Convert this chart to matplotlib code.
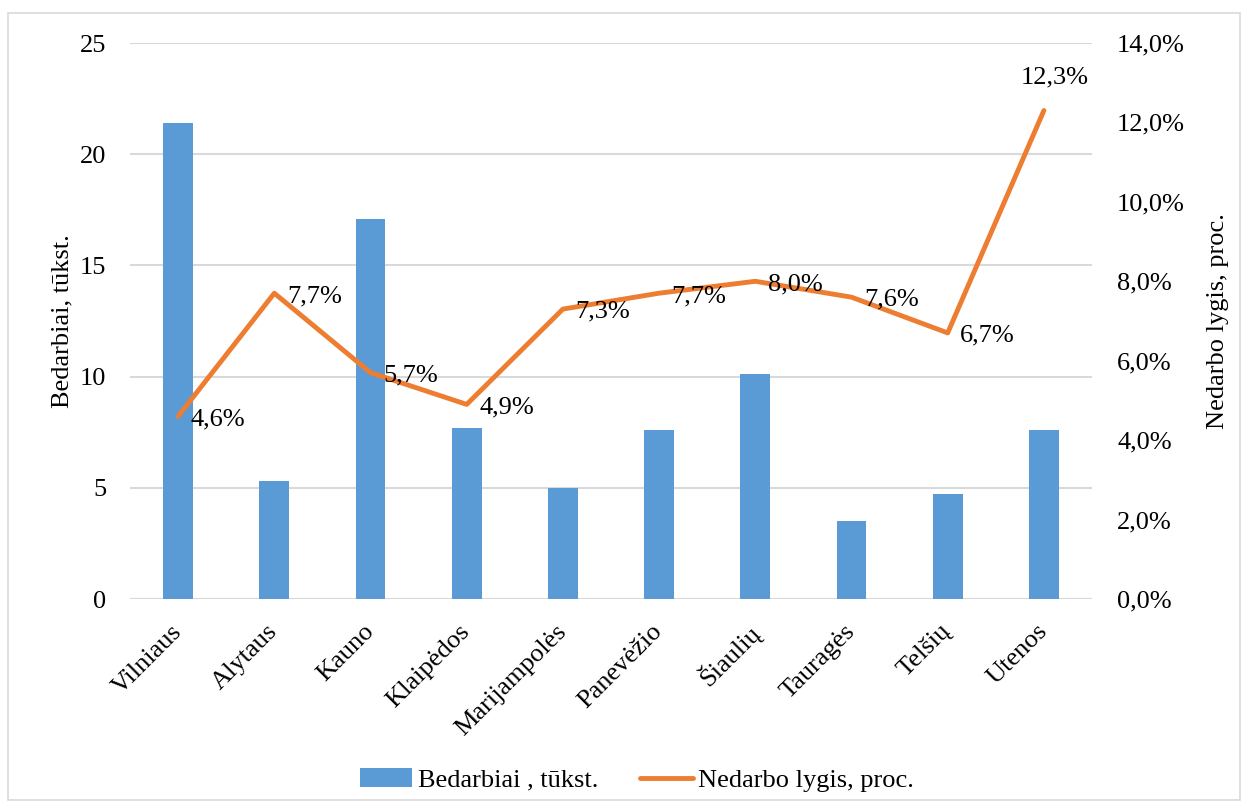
import matplotlib.pyplot as plt
import matplotlib.transforms as mtransforms
from matplotlib.ticker import FuncFormatter, MultipleLocator
from matplotlib.patches import Rectangle
import numpy as np

plt.rcParams['font.family'] = ['Liberation Serif', 'DejaVu Serif']

apskritys = ['Vilniaus', 'Alytaus', 'Kauno', 'Klaipėdos', 'Marijampolės',
             'Panevėžio', 'Šiaulių', 'Tauragės', 'Telšių', 'Utenos']
bedarbiai = [21.4, 5.3, 17.1, 7.7, 5.0, 7.6, 10.1, 3.5, 4.7, 7.6]
nedarbo_lygis = [4.6, 7.7, 5.7, 4.9, 7.3, 7.7, 8.0, 7.6, 6.7, 12.3]

blue = '#5B9BD5'
orange = '#ED7D31'
grid = '#D9D9D9'
fs = 19

fig = plt.figure(figsize=(12.49, 8.09), dpi=100)
ax = fig.add_axes([130 / 1249, 1 - 599 / 809, 962 / 1249, 556 / 809])
ax2 = ax.twinx()

x = np.arange(len(apskritys))
ax.bar(x, bedarbiai, width=0.31, color=blue, zorder=2, label='Bedarbiai , tūkst.')
ax2.plot(x, nedarbo_lygis, color=orange, lw=3.5, solid_capstyle='round',
         solid_joinstyle='round', label='Nedarbo lygis, proc.')

ax.set_xlim(-0.5, len(apskritys) - 0.5)
ax.set_ylim(0, 25)
ax2.set_ylim(0, 14)
ax.yaxis.set_major_locator(MultipleLocator(5))
ax2.yaxis.set_major_locator(MultipleLocator(2))
ax2.yaxis.set_major_formatter(FuncFormatter(lambda v, p: ('%.1f%%' % v).replace('.', ',')))

ax.grid(axis='y', color=grid, lw=1.5, zorder=0)
ax.set_axisbelow(True)
for a in (ax, ax2):
    for s in ['top', 'left', 'right', 'bottom']:
        a.spines[s].set_visible(False)
    a.tick_params(length=0, labelsize=fs)
ax.axhline(0, color=grid, lw=1.5, zorder=1)

ax.set_xticks(x)
ax.set_xticklabels(apskritys, rotation=45, ha='right', va='center', rotation_mode='anchor')
shift = mtransforms.ScaledTranslation(-6 / 100, 0, fig.dpi_scale_trans)
for lab in ax.get_xticklabels():
    lab.set_transform(lab.get_transform() + shift)
ax.tick_params(axis='x', pad=21)
ax.tick_params(axis='y', pad=17)
ax2.tick_params(axis='y', pad=18)

ax.set_ylabel('Bedarbiai, tūkst.', fontsize=fs, labelpad=5)
ax2.set_ylabel('Nedarbo lygis, proc.', fontsize=fs, labelpad=16)

# duomenų etiketės
for i, v in enumerate(nedarbo_lygis):
    txt = ('%.1f%%' % v).replace('.', ',')
    if i == len(nedarbo_lygis) - 1:
        ax2.annotate(txt, (i, v), xytext=(8, 16), textcoords='offset points',
                     ha='center', va='bottom', fontsize=fs)
    else:
        ax2.annotate(txt, (i, v), xytext=(9, -2), textcoords='offset points',
                     ha='left', va='center', fontsize=fs)

h1, l1 = ax.get_legend_handles_labels()
h2, l2 = ax2.get_legend_handles_labels()
fig.legend(h1 + h2, l1 + l2, loc='center', bbox_to_anchor=(637 / 1249, 1 - 780 / 809),
           ncol=2, frameon=False, fontsize=fs, handlelength=2.0, columnspacing=1.6,
           handletextpad=0.2)

fig.patches.append(Rectangle((8 / 1249, 1 - 800 / 809), 1232 / 1249, 787 / 809,
                             transform=fig.transFigure, fill=False,
                             edgecolor='#D9D9D9', lw=1.2))

plt.savefig('out.png', dpi=100)
